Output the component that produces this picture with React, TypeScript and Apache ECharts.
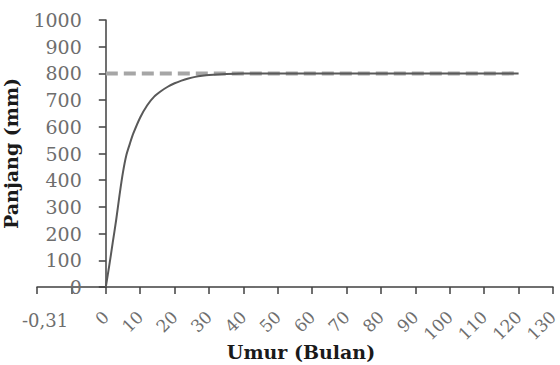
import React, { useEffect, useRef } from "react";
import * as echarts from "echarts";

const ages = [0, 1, 2, 3, 4, 5, 6, 7, 8, 10, 12, 14, 16, 18, 20, 22, 24, 26, 28, 30, 35, 40, 50, 60, 70, 80, 90, 100, 110, 120];
const lengths = [0, 80, 165, 250, 345, 430, 495, 537, 575, 635, 680, 712, 733, 750, 763, 773, 781, 787, 791, 794, 798, 800, 800, 800, 800, 800, 800, 800, 800, 800];
const asymptoteX = [0, 120];
const asymptoteY = [800, 800];
const t0Label = "-0,31";
const xTitle = "Umur (Bulan)";
const yTitle = "Panjang (mm)";

export default function App() {
  const ref = useRef<HTMLDivElement>(null);
  useEffect(() => {
    if (!ref.current) return;
    document.body.style.margin = "0";
    const chart = echarts.init(ref.current, null, { renderer: "svg" });
    const serif = "DejaVu Serif";
    const left = 37;
    const right = 7;
    const xMin = -20;
    const xMax = 130;
    const plotW = 560 - left - right;
    const yShift = (-xMin / (xMax - xMin)) * plotW;
    chart.setOption({
      animation: false,
      grid: { left, right, top: 20, bottom: 78, containLabel: false, outerBoundsMode: "none" },
      xAxis: {
        type: "value",
        min: xMin,
        max: xMax,
        interval: 10,
        name: xTitle,
        nameLocation: "middle",
        nameGap: 55,
        nameMoveOverlap: false,
        nameTextStyle: { fontFamily: serif, fontWeight: "bold", fontSize: 19, color: "#1a1a1a", padding: [0, 0, 0, 12] },
        axisLine: { onZero: true, lineStyle: { color: "#404040", width: 1.5 } },
        axisTick: { show: true, length: 7, lineStyle: { color: "#404040", width: 1.5 } },
        splitLine: { show: false },
        axisLabel: {
          rotate: 45,
          margin: 27,
          fontFamily: serif,
          fontSize: 17,
          color: "#6e6e6e",
          formatter: (v: number) => (v < 0 ? "" : String(v)),
        },
      },
      yAxis: {
        type: "value",
        min: 0,
        max: 1000,
        interval: 100,
        offset: -yShift,
        name: yTitle,
        nameLocation: "middle",
        nameGap: 85,
        nameMoveOverlap: false,
        nameTextStyle: { fontFamily: serif, fontWeight: "bold", fontSize: 19, color: "#1a1a1a" },
        axisLine: { show: true, onZero: false, lineStyle: { color: "#404040", width: 1.5 } },
        axisTick: { show: true, length: 7, lineStyle: { color: "#404040", width: 1.5 } },
        splitLine: { show: false },
        axisLabel: { margin: 24, fontFamily: serif, fontSize: 19, color: "#6e6e6e", formatter: (v: number) => String(v) },
      },
      series: [
        {
          type: "line",
          data: asymptoteX.map((x, i) => [x, asymptoteY[i]]),
          symbol: "none",
          lineStyle: { color: "#a6a6a6", width: 4, type: [12, 6] },
          z: 1,
        },
        {
          type: "line",
          data: ages.map((a, i) => [a, lengths[i]]),
          symbol: "none",
          smooth: 0.3,
          lineStyle: { color: "#595959", width: 2 },
          z: 2,
        },
      ],
      graphic: [
        {
          type: "text",
          left: 22,
          top: 311,
          style: { text: t0Label, fontFamily: serif, fontSize: 18, fill: "#6e6e6e" },
        },
      ],
    });
    return () => chart.dispose();
  }, []);
  return <div ref={ref} style={{ width: 560, height: 365, position: "absolute", left: 0, top: 0 }} />;
}
